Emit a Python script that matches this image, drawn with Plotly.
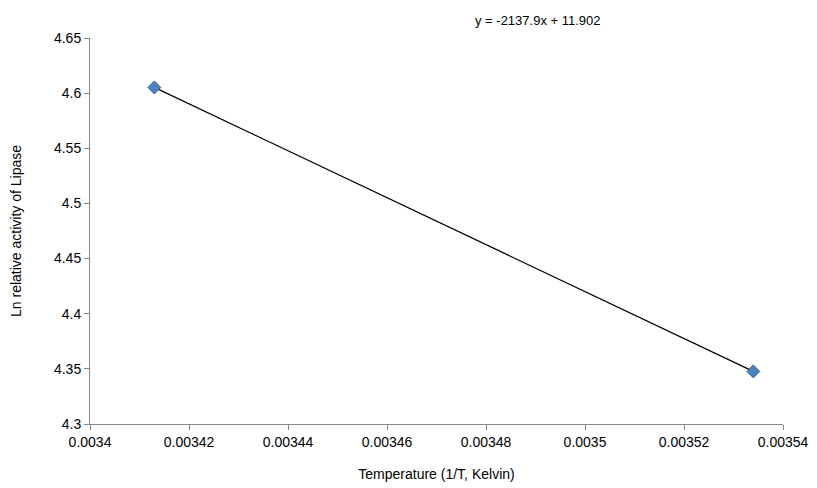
import plotly.graph_objects as go

x_vals = [0.003413, 0.003534]
y_vals = [4.6052, 4.3477]
x_ticks = [0.0034, 0.00342, 0.00344, 0.00346, 0.00348, 0.0035, 0.00352, 0.00354]
x_tick_labels = ["0.0034", "0.00342", "0.00344", "0.00346", "0.00348", "0.0035", "0.00352", "0.00354"]
y_ticks = [4.3, 4.35, 4.4, 4.45, 4.5, 4.55, 4.6, 4.65]
y_tick_labels = ["4.3", "4.35", "4.4", "4.45", "4.5", "4.55", "4.6", "4.65"]
eq_label = "y = -2137.9x + 11.902"
x_title = "Temperature (1/T, Kelvin)"
y_title = "Ln relative activity of Lipase"

fig = go.Figure()
fig.add_trace(go.Scatter(x=x_vals, y=y_vals, mode="lines", line=dict(color="black", width=1.2), showlegend=False))
fig.add_trace(go.Scatter(x=x_vals, y=y_vals, mode="markers",
                         marker=dict(symbol="diamond", size=10, color="#4F81BD", line=dict(color="#3A6594", width=1)),
                         showlegend=False))
fig.add_annotation(text=eq_label, x=0.646, xref="paper", y=1.02, yref="paper", yanchor="bottom",
                   showarrow=False, font=dict(size=13, color="black"))
axis_common = dict(showgrid=False, zeroline=False, showline=True, linecolor="#868686", linewidth=1,
                   ticks="outside", tickcolor="#868686", ticklen=5, tickfont=dict(size=14, color="black"),
                   automargin=False)
fig.update_xaxes(range=[0.0034, 0.00354], tickvals=x_ticks, ticktext=x_tick_labels,
                 title=dict(text=x_title, font=dict(size=14, color="black"), standoff=20), **axis_common)
fig.update_yaxes(range=[4.3, 4.65], tickvals=y_ticks, ticktext=y_tick_labels,
                 title=dict(text=y_title, font=dict(size=14, color="black"), standoff=32), **axis_common)
fig.update_layout(width=817, height=488, plot_bgcolor="white", paper_bgcolor="white",
                  font=dict(family="Liberation Sans, Arial"),
                  margin=dict(l=82, r=42, t=30, b=72))
fig.write_html("out.html")
